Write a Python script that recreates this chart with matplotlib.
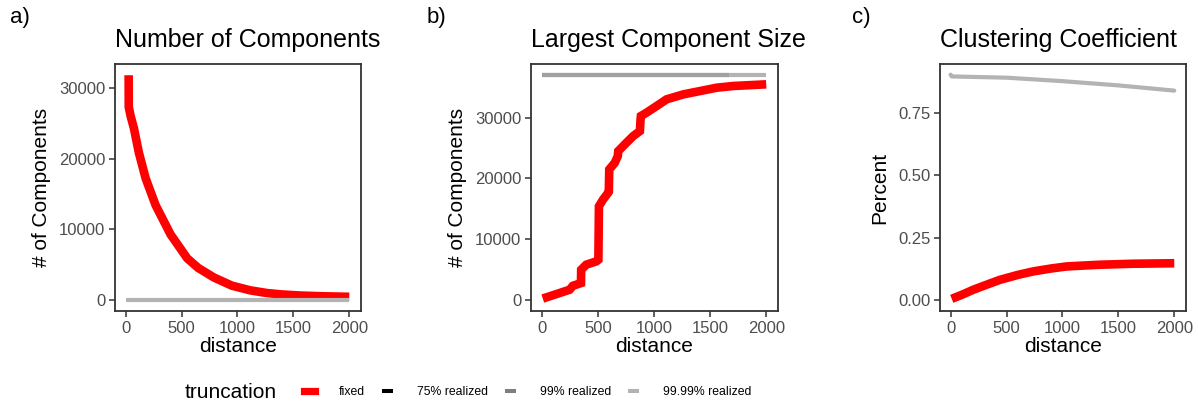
import matplotlib
matplotlib.use("Agg")
import matplotlib.pyplot as plt
from matplotlib.lines import Line2D
from matplotlib.ticker import FuncFormatter

plt.rcParams['font.family'] = ['Liberation Sans', 'DejaVu Sans']

# ---- data ----
# a) Number of components
dist_a_fixed = [27, 28, 45, 74, 119, 179, 268, 402, 551, 650, 789, 950, 1116, 1265, 1400,
                1562, 1750, 2000]
ncomp_fixed = [31800, 27300, 26000, 24300, 20800, 17200, 13400, 9250, 5870, 4500, 3160, 2000,
               1330, 950, 750, 600, 500, 420]
dist_a_real = [0, 2000]
ncomp_real9999 = [0, 0]

# b) Largest component size
dist_b_fixed = [10, 248, 278, 350, 352, 397, 487, 505, 510, 546, 591, 598, 602, 651, 678, 682,
                755, 815, 875, 880, 884, 934, 1024, 1113, 1263, 1412, 1561, 1710, 2000]
largest_fixed = [200, 1650, 2300, 2750, 4950, 5780, 6330, 6600, 15400, 16500, 17600, 17800,
                 21470, 22570, 23670, 24500, 25870, 26970, 27800, 29500, 30280, 30830, 31930,
                 33030, 33850, 34400, 34950, 35230, 35500]
dist_b_real99 = [0, 1671]
largest_real99 = [37000, 37000]
dist_b_real9999 = [0, 2000]
largest_real9999 = [37000, 37000]

# c) Clustering coefficient
dist_c_fixed = [10, 100, 200, 300, 439, 600, 737, 900, 1036, 1200, 1334, 1633, 2000]
clust_fixed = [0.004, 0.020, 0.040, 0.057, 0.080, 0.100, 0.114, 0.126, 0.134, 0.138, 0.141,
               0.145, 0.147]
dist_c_real = [0, 10, 500, 1000, 1500, 2000]
clust_real9999 = [0.905, 0.898, 0.893, 0.879, 0.862, 0.841]

x_ticks = [0, 500, 1000, 1500, 2000]
legend_labels = ["fixed", "75% realized", "99% realized", "99.99% realized"]
legend_colors = ["#ff0000", "#000000", "#7f7f7f", "#b3b3b3"]

RED = "#ff0000"
LIGHT = "#b3b3b3"
MID = "#a0a0a0"

W, H = 1198, 404
fig = plt.figure(figsize=(W / 100, H / 100), dpi=100)

def ax_at(x0, x1, y0, y1):
    return fig.add_axes([x0 / W, 1 - y1 / H, (x1 - x0) / W, (y1 - y0) / H])

axes = [ax_at(115, 361, 64, 311), ax_at(531, 778, 64, 311), ax_at(940, 1186, 64, 311)]

red_lw = 6.2
gray_lw = 3.0

a, b, c = axes
a.plot(dist_a_fixed, ncomp_fixed, color=RED, lw=red_lw, solid_capstyle='butt', solid_joinstyle='round')
a.plot(dist_a_real, ncomp_real9999, color=LIGHT, lw=gray_lw, solid_capstyle='butt')
a.set_ylim(-1590, 33390)
a.set_yticks([0, 10000, 20000, 30000])
a.set_ylabel("# of Components")
a.set_title("Number of Components", loc='left')

b.plot(dist_b_fixed, largest_fixed, color=RED, lw=red_lw, solid_capstyle='butt', solid_joinstyle='miter')
b.plot(dist_b_real9999, largest_real9999, color=LIGHT, lw=gray_lw, solid_capstyle='butt')
b.plot(dist_b_real99, largest_real99, color=MID, lw=gray_lw, solid_capstyle='butt')
b.set_ylim(-1850, 38850)
b.set_yticks([0, 10000, 20000, 30000])
b.set_ylabel("# of Components")
b.set_title("Largest Component Size", loc='left')

c.plot(dist_c_fixed, clust_fixed, color=RED, lw=red_lw, solid_capstyle='butt', solid_joinstyle='round')
c.plot(dist_c_real, clust_real9999, color=LIGHT, lw=gray_lw, solid_capstyle='round')
c.set_ylim(-0.045, 0.948)
c.set_yticks([0, 0.25, 0.5, 0.75])
c.yaxis.set_major_formatter(FuncFormatter(lambda v, p: f"{v:.2f}"))
c.set_ylabel("Percent")
c.set_title("Clustering Coefficient", loc='left')

for ax in axes:
    ax.set_xlim(-95, 2105)
    ax.set_xticks(x_ticks)
    ax.set_xlabel("distance", fontsize=15, labelpad=1)
    ax.yaxis.label.set_fontsize(15)
    ax.yaxis.labelpad = 6
    ax.set_title(ax.get_title(loc='left'), loc='left', fontsize=18, pad=12)
    ax.tick_params(axis='both', labelsize=12, labelcolor='#4d4d4d', color='#333333',
                   length=4, width=1.1, pad=3)
    for s in ax.spines.values():
        s.set_color('#333333')
        s.set_linewidth(1.3)
    ax.set_facecolor('white')

# panel labels
for lab, x in [("a)", 10), ("b)", 427), ("c)", 852)]:
    fig.text(x / W, 1 - 18 / H, lab, fontsize=16, va='center', ha='left')

# legend
handles = [Line2D([], [], color=legend_colors[0], lw=5.2, solid_capstyle='projecting')]
handles += [Line2D([], [], color=col, lw=2.9, solid_capstyle='butt') for col in legend_colors[1:]]
fs = 8.8
px = fs * 100 / 72
fig.text(185 / W, 1 - 392 / H, "truncation", fontsize=15, va='center', ha='left')
leg = fig.legend(handles, legend_labels, loc='center left', bbox_to_anchor=(303.5 / W, 1 - 392 / H),
                 ncol=4, frameon=False, borderpad=0, borderaxespad=0,
                 handlelength=11 / px, handletextpad=24 / px, columnspacing=17 / px,
                 prop={'family': 'Liberation Sans', 'size': fs})

fig.savefig("out.png", dpi=100, facecolor='white')
